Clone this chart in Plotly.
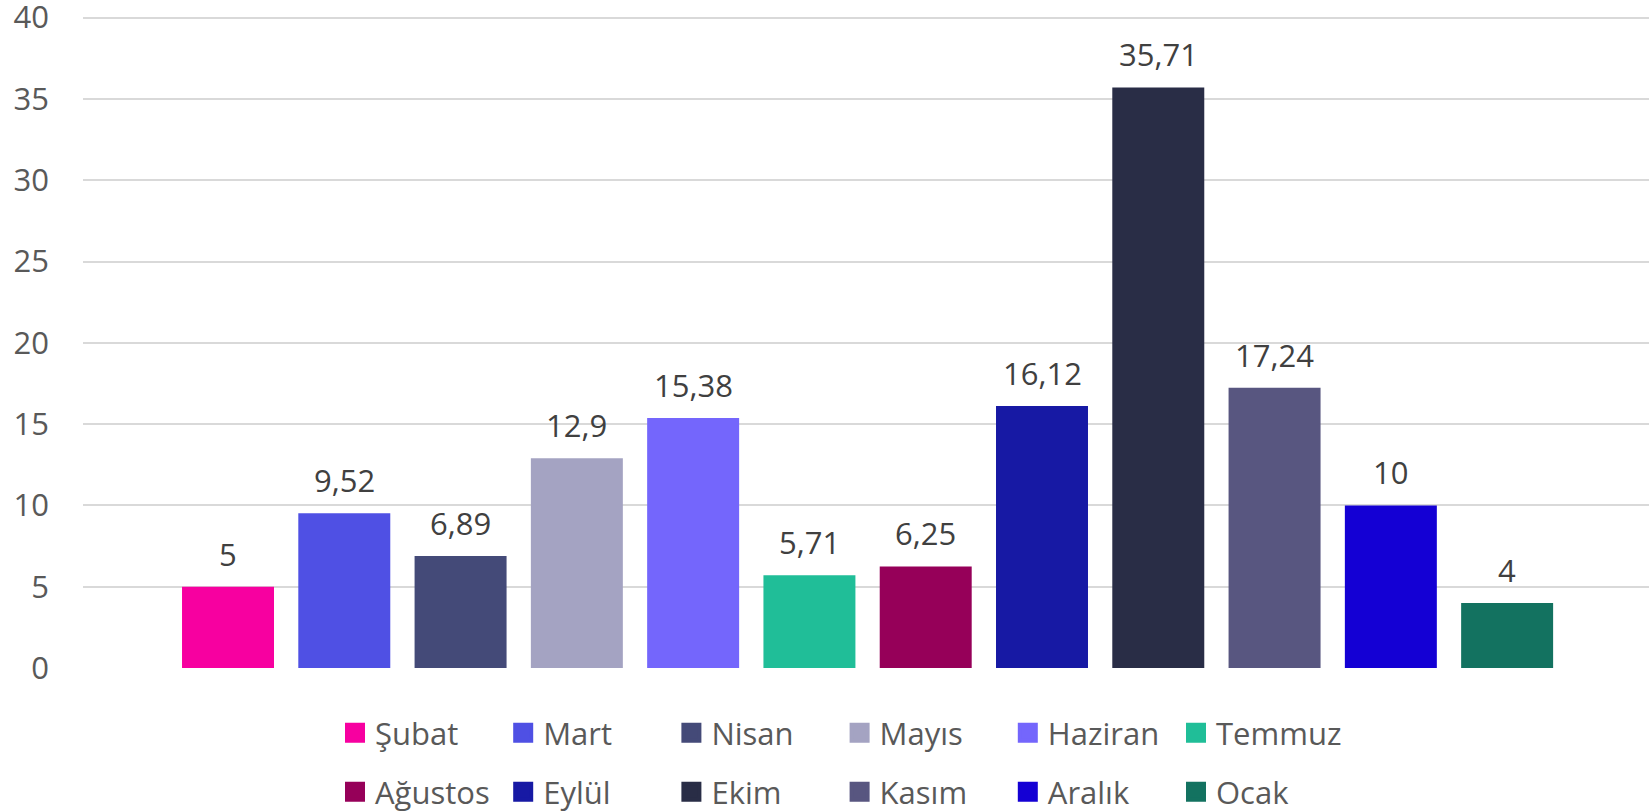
import plotly.graph_objects as go

months = ["Şubat", "Mart", "Nisan", "Mayıs", "Haziran", "Temmuz",
          "Ağustos", "Eylül", "Ekim", "Kasım", "Aralık", "Ocak"]
values = [5, 9.52, 6.89, 12.9, 15.38, 5.71, 6.25, 16.12, 35.71, 17.24, 10, 4]
labels = ["5", "9,52", "6,89", "12,9", "15,38", "5,71", "6,25", "16,12", "35,71", "17,24", "10", "4"]
colors = ["#F700A0", "#4F50E4", "#444A78", "#A4A3C2", "#7466FC", "#20BE98",
          "#960059", "#1719A4", "#292D46", "#585680", "#1400D4", "#137260"]
y_ticks = [0, 5, 10, 15, 20, 25, 30, 35, 40]

W, H = 1649, 812
FONT = "Open Sans"

fig = go.Figure()
for i, (m, v, c) in enumerate(zip(months, values, colors)):
    fig.add_trace(go.Bar(x=[m], y=[v], marker=dict(color=c, line=dict(width=0)),
                         width=0.791, showlegend=False, hoverinfo="x+y"))
# legend entries (two rows of six)
for i, (m, c) in enumerate(zip(months, colors)):
    fig.add_trace(go.Scatter(x=[None], y=[None], mode="markers", name=m,
                             marker=dict(symbol="square", size=16, color=c,
                                         line=dict(color=c, width=4)),
                             legend="legend" if i < 6 else "legend2"))

annotations = []
for m, v, t in zip(months, values, labels):
    annotations.append(dict(x=m, y=v, text=t, showarrow=False, xanchor="center",
                            yanchor="bottom", yshift=10,
                            font=dict(family=FONT, size=31, color="#404040")))

leg_common = dict(orientation="h", xref="container", yref="container",
                  x=335 / W, xanchor="left", yanchor="middle",
                  font=dict(family=FONT, size=31, color="#595959"),
                  entrywidth=123.2, entrywidthmode="pixels",
                  bgcolor="rgba(0,0,0,0)", borderwidth=0, traceorder="normal")

fig.update_layout(
    width=W, height=H,
    margin=dict(l=83, r=0, t=16, b=144, pad=0, autoexpand=False),
    paper_bgcolor="white", plot_bgcolor="white",
    barmode="overlay",
    font=dict(family=FONT, color="#595959"),
    xaxis=dict(type="category", categoryorder="array", categoryarray=months,
               range=[-1.247, 12.22], showticklabels=False, showgrid=False,
               zeroline=False, showline=False, ticks="", automargin=False),
    yaxis=dict(range=[0, 40.1], tickvals=y_ticks, ticktext=[str(t) for t in y_ticks],
               showgrid=True, gridcolor="#D9D9D9", gridwidth=1.5,
               zeroline=False, showline=False, ticks="", automargin=False,
               ticklabelstandoff=33, ticklabeloverflow="allow",
               tickfont=dict(family=FONT, size=31, color="#595959")),
    legend=dict(leg_common, y=1 - 733 / H),
    legend2=dict(leg_common, y=1 - 792 / H),
    annotations=annotations,
    showlegend=True,
)

fig.write_html("out.html", config={"displayModeBar": False},
               post_script="document.body.style.margin='0';document.body.style.overflow='hidden';")
